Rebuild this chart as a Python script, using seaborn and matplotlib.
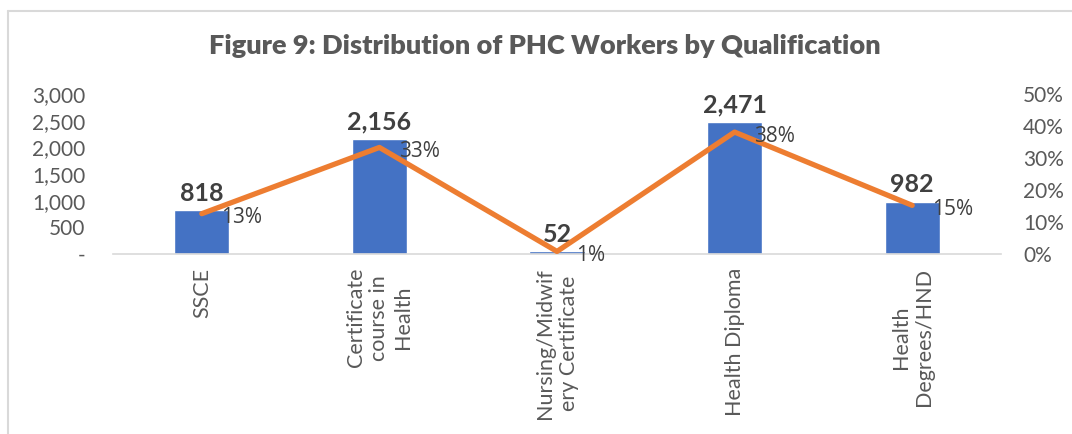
import matplotlib
matplotlib.use("Agg")
import matplotlib.pyplot as plt
from matplotlib.lines import Line2D
from matplotlib.ticker import FuncFormatter
import seaborn as sns
import numpy as np
import pandas as pd

categories = ["SSCE", "Certificate\ncourse in\nHealth", "Nursing/Midwif\nery Certificate",
              "Health Diploma", "Health\nDegrees/HND"]
workers = [818, 2156, 52, 2471, 982]
shares = [0.126, 0.333, 0.008, 0.381, 0.152]
title = "Figure 9: Distribution of PHC Workers by Qualification"

sns.set_theme(style="white")
plt.rcParams['font.family'] = ['Lato', 'DejaVu Sans']

BAR = "#4472C4"
LINE = "#ED7D31"
TXT = "#595959"

fig = plt.figure(figsize=(10.72, 4.34), dpi=100)
ax = fig.add_axes([113/1072, 180/434, 888/1072, 160/434])

df = pd.DataFrame({"cat": categories, "n": workers, "share": shares})
sns.barplot(data=df, x="cat", y="n", color=BAR, saturation=1, width=0.31, ax=ax)
ax.set_ylim(0, 3000)
ax.set_yticks(np.arange(0, 3001, 500))
ax.yaxis.set_major_formatter(FuncFormatter(lambda v, p: "-" if v == 0 else f"{int(v):,}"))
ax.set_xlabel("")
ax.set_ylabel("")
for s in ["top", "right", "left"]:
    ax.spines[s].set_visible(False)
ax.spines["bottom"].set_color("#D9D9D9")
ax.spines["bottom"].set_linewidth(1.2)
ax.tick_params(axis="y", length=0, labelsize=15, labelcolor=TXT, pad=20)
ax.tick_params(axis="x", length=0, labelsize=15.5, labelcolor=TXT, pad=10)
for lab in ax.get_xticklabels():
    lab.set_rotation(90)
    lab.set_ha("center")
    lab.set_va("top")
    lab.set_multialignment("center")
for c in ax.containers:
    ax.bar_label(c, labels=[f"{v:,}" for v in workers], padding=4,
                 fontsize=18, fontweight="bold", color="#404040")

ax2 = ax.twinx()
sns.lineplot(data=df, x="cat", y="share", color=LINE, linewidth=3.8, ax=ax2,
             sort=False, solid_capstyle="round")
ax2.set_ylim(0, 0.5)
ax2.set_yticks(np.arange(0, 0.51, 0.1))
ax2.yaxis.set_major_formatter(FuncFormatter(lambda v, p: f"{v*100:.0f}%"))
ax2.set_ylabel("")
for s in ["top", "right", "left", "bottom"]:
    ax2.spines[s].set_visible(False)
ax2.tick_params(axis="y", length=0, labelsize=15, labelcolor=TXT, pad=16)
for i, v in enumerate(shares):
    ax2.annotate(f"{v*100:.0f}%", (i, v), xytext=(14, -3), textcoords="offset points",
                 ha="left", va="center", fontsize=15, color="#404040",
                 family=["Open Sans", "DejaVu Sans"])
ax.set_xlim(-0.5, len(categories) - 0.5)

fig.text(545/1072, 1 - 46/434, title, ha="center", va="center", fontsize=19.5,
         fontweight="heavy", color=TXT)

fig.add_artist(Line2D([8/1072, 8/1072], [0, 1 - 11/434], transform=fig.transFigure,
                      color="#D9D9D9", linewidth=1.5))
fig.add_artist(Line2D([8/1072, 1], [1 - 11/434, 1 - 11/434], transform=fig.transFigure,
                      color="#D9D9D9", linewidth=1.5))

fig.savefig("out.png", dpi=100, facecolor="white")
